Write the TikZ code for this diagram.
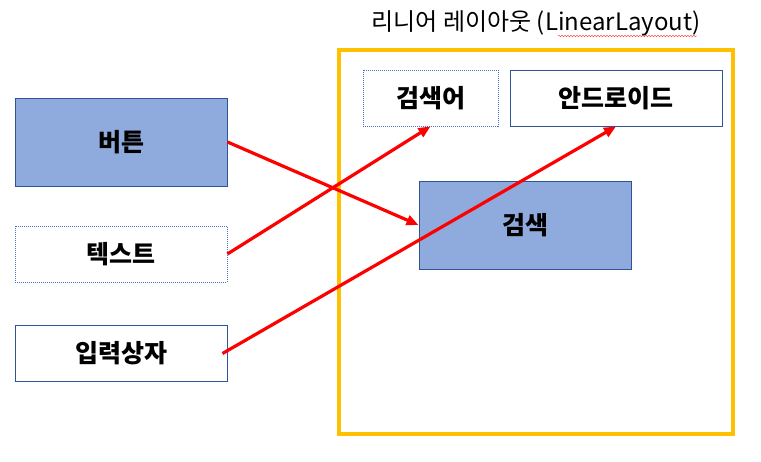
\documentclass[tikz,border=0pt]{standalone}
\usepackage{fontspec}
\setmainfont{Noto Sans CJK KR}
\usetikzlibrary{positioning,arrows.meta,decorations.pathmorphing}

\definecolor{boxfill}{HTML}{8FAADC}
\definecolor{boxline}{HTML}{2F5597}
\definecolor{dotline}{HTML}{4472C4}
\definecolor{frameyellow}{HTML}{FFC000}

\begin{document}
\begin{tikzpicture}[
  x=1pt,y=-1pt,
  font=\fontsize{25}{28}\selectfont\bfseries,
  widget/.style={rectangle,draw=boxline,line width=1pt,minimum width=212pt,
                 minimum height=56pt,inner sep=0pt,align=center},
  filled/.style={widget,fill=boxfill,minimum height=88pt},
  dotted box/.style={widget,draw=dotline,densely dotted,line width=0.8pt},
  arr/.style={-{Triangle[length=12pt,width=10pt]},line width=3.2pt,red},
]
\useasboundingbox (0,0) rectangle (761,461);

% widgets on the left
\node[filled]     (btn)   at (121,142)   {버튼};
\node[dotted box] (text)  at (121,254)   {텍스트};
\node[widget]     (input) at (121,353.5) {입력상자};

% linear layout frame and its children
\node[draw=frameyellow,line width=3.2pt,minimum width=394pt,minimum height=384pt,
      inner sep=0pt] (layout) at (536,242) {};
\node[font=\fontsize{24}{28}\selectfont] (title) at (536,23)
  {리니어 레이아웃 (LinearLayout)};
\draw[red!80,line width=0.4pt,decoration={snake,amplitude=0.8pt,segment length=3pt},
      decorate] (558,36) -- (697,36);

\node[dotted box,minimum width=135pt] (keyword) at (430.5,98) {검색어};
\node[widget] (android) at (616,98) {안드로이드};
\node[filled] (search) at (525,225) {검색};

\draw[arr] (btn.east) -- (search.west);
\draw[arr] (text.east) -- (keyword.south);
\draw[arr] ([xshift=-5pt]input.east) -- (android.south);
\end{tikzpicture}
\end{document}
